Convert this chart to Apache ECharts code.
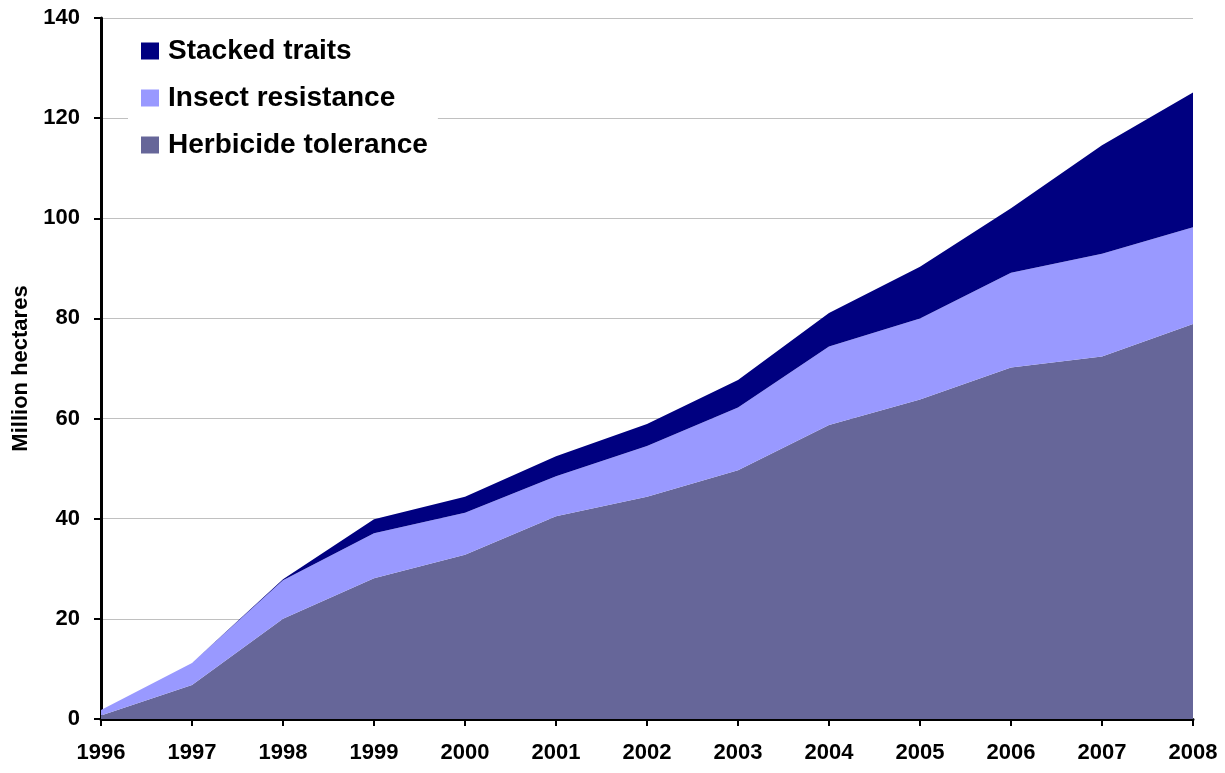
<!DOCTYPE html>
<html>
<head>
<meta charset="utf-8">
<script src="https://cdn.jsdelivr.net/npm/echarts@6/dist/echarts.min.js"></script>
<style>html,body{margin:0;padding:0;background:#fff}#c{width:1225px;height:773px}</style>
</head>
<body>
<div id="c"></div>
<script>
const years = ['1996','1997','1998','1999','2000','2001','2002','2003','2004','2005','2006','2007','2008'];
const herbicideTolerance = [0.7, 6.8, 20.0, 28.1, 32.8, 40.5, 44.4, 49.7, 58.7, 63.8, 70.2, 72.4, 78.9];
const insectResistance  = [1.1, 4.4, 7.7, 9.0, 8.4, 8.0, 10.1, 12.5, 15.7, 16.2, 18.9, 20.5, 19.3];
const stackedTraits     = [0.0, 0.0, 0.2, 2.8, 3.2, 4.0, 4.4, 5.5, 6.7, 10.3, 12.9, 21.7, 26.9];
const yTicks = [0, 20, 40, 60, 80, 100, 120, 140];

const FONT = 'Liberation Sans, Arial, sans-serif';
const chart = echarts.init(document.getElementById('c'), null, {renderer: 'canvas'});
function areaSeries(name, data, color) {
  return {
    name: name, type: 'line', stack: 'total', data: data,
    symbol: 'none', lineStyle: {width: 0}, areaStyle: {color: color, opacity: 1},
    itemStyle: {color: color}, emphasis: {disabled: true}
  };
}
chart.setOption({
  animation: false,
  grid: {left: 101, right: 32, top: 18, bottom: 54, containLabel: false},
  legend: {
    orient: 'vertical', left: 128, top: 27,
    padding: [10, 10, 10, 13],
    backgroundColor: '#ffffff',
    itemWidth: 18, itemHeight: 17, itemGap: 19,
    icon: 'rect',
    data: ['Stacked traits', 'Insect resistance', 'Herbicide tolerance'],
    textStyle: {fontFamily: FONT, fontWeight: 'bold', fontSize: 28, color: '#000', lineHeight: 28, padding: [0, 0, 0, 4]}
  },
  xAxis: {
    type: 'category', data: years, boundaryGap: false,
    axisLine: {lineStyle: {color: '#000', width: 3}},
    axisTick: {show: true, length: 7, lineStyle: {color: '#000', width: 2}, alignWithLabel: true},
    axisLabel: {fontFamily: FONT, fontWeight: 'bold', fontSize: 22, color: '#000', margin: 23},
    splitLine: {show: false}
  },
  yAxis: {
    type: 'value', min: yTicks[0], max: yTicks[yTicks.length - 1], interval: 20,
    name: 'Million hectares', nameLocation: 'middle', nameGap: 65, nameRotate: 90,
    nameTextStyle: {fontFamily: FONT, fontWeight: 'bold', fontSize: 22, color: '#000'},
    axisLine: {show: true, lineStyle: {color: '#000', width: 3}},
    axisTick: {show: true, length: 7, lineStyle: {color: '#000', width: 2}},
    axisLabel: {fontFamily: FONT, fontWeight: 'bold', fontSize: 22, color: '#000', margin: 21},
    splitLine: {show: true, lineStyle: {color: '#c0c0c0', width: 1}}
  },
  series: [
    areaSeries('Herbicide tolerance', herbicideTolerance, '#666699'),
    areaSeries('Insect resistance', insectResistance, '#9999ff'),
    areaSeries('Stacked traits', stackedTraits, '#000080')
  ]
});
</script>
</body>
</html>
